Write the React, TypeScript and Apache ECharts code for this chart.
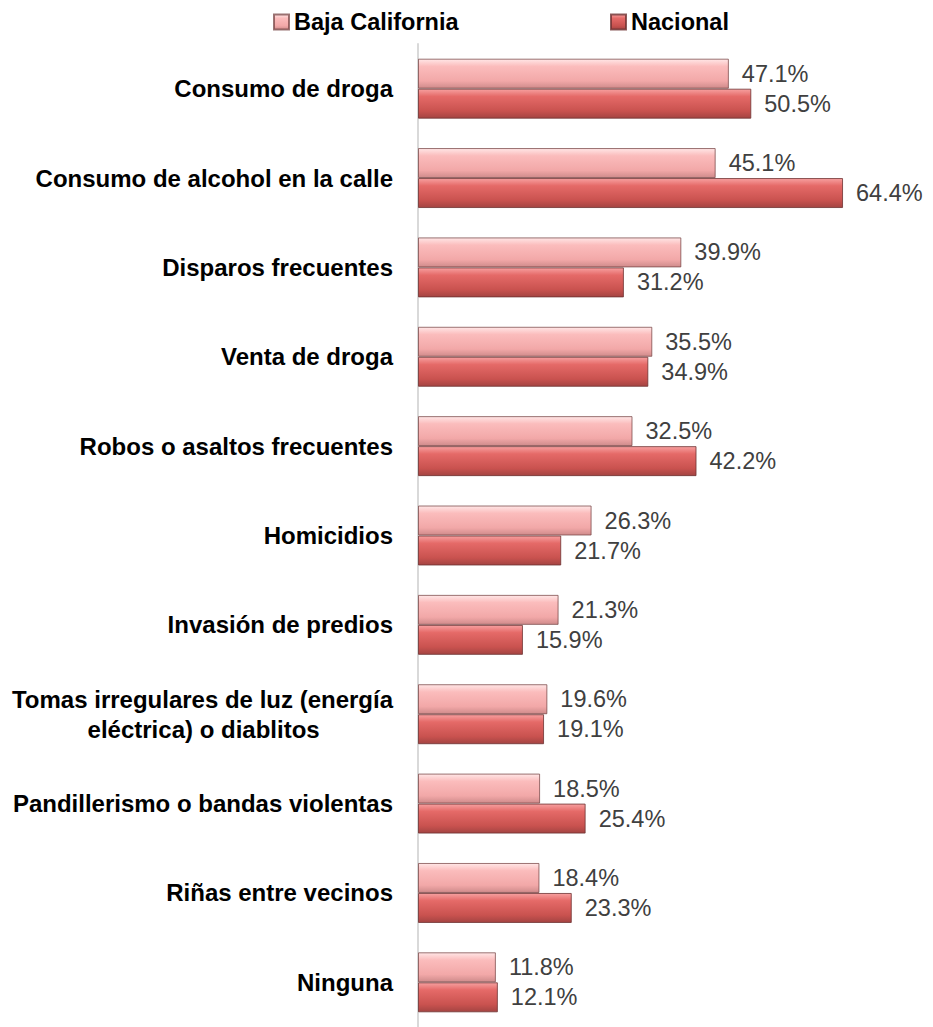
import React, { useEffect, useRef } from "react";
import * as echarts from "echarts";

const NB = "\u00a0";
const categories = [
  "Consumo de droga",
  "Consumo de alcohol en la calle",
  "Disparos frecuentes",
  "Venta de droga",
  "Robos o asaltos frecuentes",
  "Homicidios",
  "Invasión de predios",
  "Tomas irregulares de luz (energía\neléctrica) o diablitos" + NB.repeat(11),
  "Pandillerismo o bandas violentas",
  "Riñas entre vecinos",
  "Ninguna",
];
const bajaCalifornia = [47.1, 45.1, 39.9, 35.5, 32.5, 26.3, 21.3, 19.6, 18.5, 18.4, 11.8];
const nacional = [50.5, 64.4, 31.2, 34.9, 42.2, 21.7, 15.9, 19.1, 25.4, 23.3, 12.1];

const FONT = "'Liberation Sans', Arial, sans-serif";

const bajaGrad = new echarts.graphic.LinearGradient(0, 0, 0, 1, [
  { offset: 0, color: "#ffe6e6" },
  { offset: 0.25, color: "#fbbcbc" },
  { offset: 0.75, color: "#f2a8a8" },
  { offset: 1, color: "#cf8b8b" },
]);
const nacGrad = new echarts.graphic.LinearGradient(0, 0, 0, 1, [
  { offset: 0, color: "#f7a0a0" },
  { offset: 0.25, color: "#e56a68" },
  { offset: 0.75, color: "#c9524f" },
  { offset: 1, color: "#a44442" },
]);

export default function App() {
  const ref = useRef<HTMLDivElement>(null);
  useEffect(() => {
    if (!ref.current) return;
    const chart = echarts.init(ref.current, undefined, { renderer: "svg" });
    const labelCfg = {
      show: true,
      position: "right",
      distance: 13,
      color: "#404040",
      fontSize: 23.5,
      fontFamily: FONT,
      formatter: (p: any) => p.value.toFixed(1) + "%",
    };
    const legendText = { fontSize: 23.5, fontWeight: "bold", color: "#000", fontFamily: FONT };
    chart.setOption({
      animation: false,
      legend: [
        {
          data: ["Baja California"],
          left: 273,
          top: 10,
          padding: 0,
          icon: "rect",
          itemWidth: 15,
          itemHeight: 15,
          textStyle: legendText,
        },
        {
          data: ["Nacional"],
          left: 610,
          top: 10,
          padding: 0,
          icon: "rect",
          itemWidth: 15,
          itemHeight: 15,
          textStyle: legendText,
        },
      ],
      grid: { left: 418, top: 44, height: 990, right: 53 },
      xAxis: {
        type: "value",
        min: 0,
        max: 70,
        show: false,
      },
      yAxis: {
        type: "category",
        data: categories,
        inverse: true,
        axisTick: { show: false },
        axisLine: { show: true, lineStyle: { color: "#d9d9d9", width: 2 } },
        axisLabel: {
          margin: 25,
          color: "#000",
          fontSize: 24,
          fontWeight: "bold",
          fontFamily: FONT,
          lineHeight: 30,
        },
        splitLine: { show: false },
      },
      series: [
        {
          name: "Baja California",
          type: "bar",
          data: bajaCalifornia,
          barWidth: 30,
          barGap: "0%",
          itemStyle: { color: bajaGrad, borderColor: "rgba(120,70,70,0.75)", borderWidth: 1 },
          label: labelCfg,
        },
        {
          name: "Nacional",
          type: "bar",
          data: nacional,
          barWidth: 30,
          barGap: "0%",
          itemStyle: { color: nacGrad, borderColor: "rgba(110,50,50,0.8)", borderWidth: 1 },
          label: labelCfg,
        },
      ],
    });
    return () => chart.dispose();
  }, []);
  return (
    <div
      ref={ref}
      style={{ position: "absolute", left: 0, top: 0, width: 933, height: 1027 }}
    />
  );
}
